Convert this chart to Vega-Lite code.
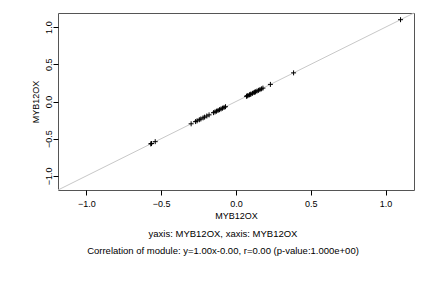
{
  "$schema": "https://vega.github.io/schema/vega-lite/v6.json",
  "width": 356,
  "height": 177,
  "autosize": {"type": "none"},
  "padding": {"left": 58, "top": 13, "right": 18, "bottom": 98},
  "background": "white",
  "config": {
    "view": {"stroke": "#555555", "strokeWidth": 1},
    "font": "Liberation Sans"
  },
  "title": {
    "text": ["yaxis: MYB12OX, xaxis: MYB12OX", "Correlation of module: y=1.00x-0.00, r=0.00 (p-value:1.000e+00)"],
    "orient": "bottom",
    "anchor": "middle",
    "font": "Liberation Sans",
    "fontSize": 9.5,
    "fontWeight": "normal",
    "color": "black",
    "lineHeight": 17,
    "offset": 9,
    "dx": -13
  },
  "datasets": {
    "pts": [
      {"x": 1.10, "y": 1.10},
      {"x": 0.385, "y": 0.385},
      {"x": 0.23, "y": 0.23},
      {"x": 0.18, "y": 0.18},
      {"x": 0.17, "y": 0.17},
      {"x": 0.16, "y": 0.16},
      {"x": 0.15, "y": 0.15},
      {"x": 0.14, "y": 0.14},
      {"x": 0.13, "y": 0.13},
      {"x": 0.125, "y": 0.125},
      {"x": 0.12, "y": 0.12},
      {"x": 0.11, "y": 0.11},
      {"x": 0.10, "y": 0.10},
      {"x": 0.095, "y": 0.095},
      {"x": 0.09, "y": 0.09},
      {"x": 0.08, "y": 0.08},
      {"x": 0.075, "y": 0.075},
      {"x": 0.07, "y": 0.07},
      {"x": -0.07, "y": -0.07},
      {"x": -0.08, "y": -0.08},
      {"x": -0.09, "y": -0.09},
      {"x": -0.10, "y": -0.10},
      {"x": -0.11, "y": -0.11},
      {"x": -0.12, "y": -0.12},
      {"x": -0.13, "y": -0.13},
      {"x": -0.14, "y": -0.14},
      {"x": -0.15, "y": -0.15},
      {"x": -0.18, "y": -0.18},
      {"x": -0.195, "y": -0.195},
      {"x": -0.21, "y": -0.21},
      {"x": -0.22, "y": -0.22},
      {"x": -0.235, "y": -0.235},
      {"x": -0.245, "y": -0.245},
      {"x": -0.26, "y": -0.26},
      {"x": -0.27, "y": -0.27},
      {"x": -0.30, "y": -0.30},
      {"x": -0.54, "y": -0.54},
      {"x": -0.565, "y": -0.565},
      {"x": -0.57, "y": -0.57}
    ],
    "diag": [{"x": -1.19, "y": -1.19, "x2": 1.19, "y2": 1.19}]
  },
  "layer": [
    {
      "data": {"name": "diag"},
      "mark": {"type": "rule", "color": "#c8c8c8", "strokeWidth": 1},
      "encoding": {
        "x": {"field": "x", "type": "quantitative", "scale": {"domain": [-1.19, 1.19], "nice": false, "zero": false},
          "axis": {"title": "MYB12OX", "values": [-1, -0.5, 0, 0.5, 1], "format": ".1f", "domain": false, "grid": false,
            "tickColor": "black", "tickSize": 5, "labelFontSize": 9, "labelColor": "black", "labelPadding": 4,
            "titleFontSize": 9, "titleFontWeight": "normal", "titleColor": "black", "titlePadding": 3}},
        "y": {"field": "y", "type": "quantitative", "scale": {"domain": [-1.19, 1.19], "nice": false, "zero": false},
          "axis": {"title": "MYB12OX", "values": [-1, -0.5, 0, 0.5, 1], "format": ".1f", "domain": false, "grid": false,
            "tickColor": "black", "tickSize": 5, "labelFontSize": 9, "labelColor": "black", "labelAngle": 270,
            "labelAlign": "center", "labelBaseline": "bottom", "labelPadding": 0,
            "titleFontSize": 9, "titleFontWeight": "normal", "titleColor": "black", "titlePadding": 4}},
        "x2": {"field": "x2"},
        "y2": {"field": "y2"}
      }
    },
    {
      "data": {"name": "pts"},
      "mark": {"type": "point", "shape": "M-1,0L1,0M0,-1L0,1", "size": 25, "filled": false, "stroke": "black", "strokeWidth": 1, "opacity": 1},
      "encoding": {
        "x": {"field": "x", "type": "quantitative"},
        "y": {"field": "y", "type": "quantitative"}
      }
    }
  ]
}
